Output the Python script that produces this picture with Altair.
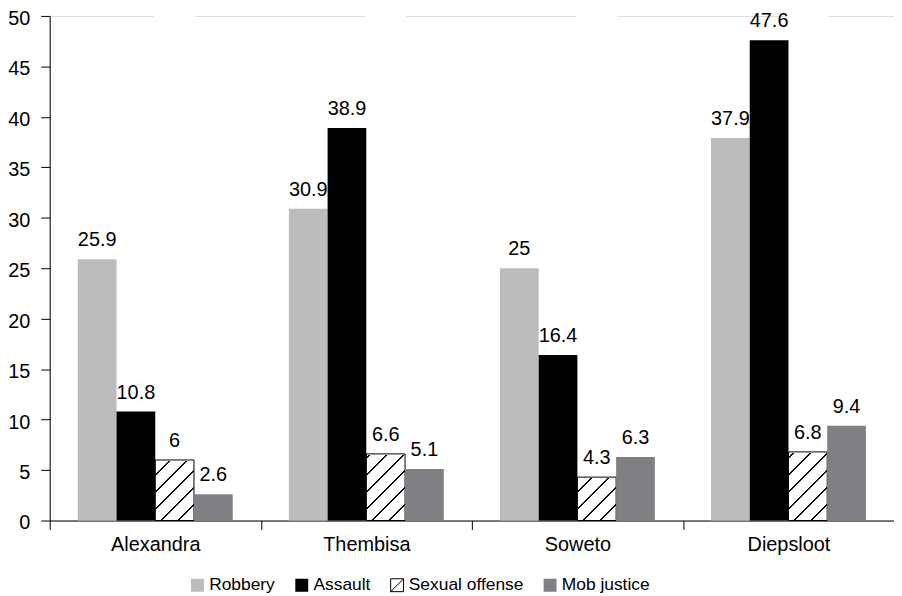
import altair as alt
import pandas as pd

# ---- data ----
locations = ["Alexandra", "Thembisa", "Soweto", "Diepsloot"]
series = ["Robbery", "Assault", "Sexual offense", "Mob justice"]
robbery = [25.9, 30.9, 25, 37.9]
assault = [10.8, 38.9, 16.4, 47.6]
sexual_offense = [6, 6.6, 4.3, 6.8]
mob_justice = [2.6, 5.1, 6.3, 9.4]
y_ticks = [0, 5, 10, 15, 20, 25, 30, 35, 40, 45, 50]

# ---- styles ----
fill_colors = ["#bcbcbe", "#000000", "transparent", "#808084"]
stroke_colors = ["transparent", "transparent", "#000000", "transparent"]
FONT = "Liberation Sans"
HATCHED = "Sexual offense"

rows = []
for s, vals in zip(series, [robbery, assault, sexual_offense, mob_justice]):
    for loc, v in zip(locations, vals):
        rows.append({"location": loc, "series": s, "value": v})
df = pd.DataFrame(rows)

# diagonal hatch as a hard-stop linear gradient on a full-height rect
n_lines = 32
line_w = 0.0030
stops = []
for k in range(n_lines):
    a = k / n_lines
    stops += [
        {"offset": a, "color": "black"},
        {"offset": a + line_w, "color": "black"},
        {"offset": a + line_w, "color": "white"},
        {"offset": (k + 1) / n_lines, "color": "white"},
    ]
hatch = {"gradient": "linear", "x1": 0, "y1": 0, "x2": 0.0822, "y2": 1.0705,
         "stops": stops}

x_enc = alt.X(
    "location:N",
    scale=alt.Scale(domain=locations, paddingInner=0, paddingOuter=0),
    axis=alt.Axis(title=None, labelAngle=0, labelFontSize=20, labelFont=FONT,
                  labelColor="black", tickBand="extent", tickSize=9,
                  labelPadding=5, domainColor="black", tickColor="black",
                  domainWidth=1, tickWidth=1),
)
xo_enc = alt.XOffset("series:N",
                     scale=alt.Scale(domain=series, paddingInner=0, paddingOuter=0.725))
y_scale = alt.Scale(domain=[0, 50], nice=False)
y_enc = alt.Y(
    "value:Q", scale=y_scale,
    axis=alt.Axis(title=None, values=y_ticks, grid=False, labelFontSize=20,
                  labelFont=FONT, labelColor="black", tickSize=9, labelPadding=11,
                  labelOffset=2.5,
                  domainColor="black", tickColor="black", domainWidth=1, tickWidth=1),
)

base = alt.Chart(df)
hatched = base.transform_filter(alt.datum.series == HATCHED)

hatch_layer = hatched.mark_bar(fill=hatch).encode(
    x=x_enc, xOffset=xo_enc,
    y=alt.Y(datum=50, type="quantitative", scale=y_scale, title=None),
    y2=alt.Y2(datum=0),
)
cover_layer = hatched.mark_bar(fill="white", stroke="white", strokeWidth=2).encode(
    x=x_enc, xOffset=xo_enc, y=y_enc, y2=alt.Y2(datum=51),
)

legend = alt.Legend(
    title=None, orient="none", legendX=140, legendY=564, direction="horizontal",
    columns=4, symbolType="M-1,-1H1V1H-1Z M-1,1L1,-1", symbolSize=169,
    symbolStrokeWidth=1, labelFontSize=17.5, labelFont=FONT, labelColor="black",
    columnPadding=18, labelOffset=3, padding=0, symbolOffset=0,
)
bars = base.mark_bar(strokeWidth=1).encode(
    x=x_enc, xOffset=xo_enc, y=y_enc,
    fill=alt.Fill("series:N", scale=alt.Scale(domain=series, range=fill_colors),
                  legend=legend),
    stroke=alt.Stroke("series:N", scale=alt.Scale(domain=series, range=stroke_colors),
                      legend=legend),
)
labels = base.mark_text(dy=-13, fontSize=20, font=FONT, baseline="alphabetic",
                        color="black").encode(
    x=x_enc, xOffset=xo_enc, y=y_enc, text=alt.Text("value:Q"),
)

chart = alt.layer(hatch_layer, cover_layer, bars, labels).properties(
    width=850, height=508,
    autosize=alt.AutoSizeParams(type="none"),
    padding={"left": 42, "top": 6, "right": 0, "bottom": 74},
).configure_view(stroke=None).configure(font=FONT)

chart.save("out.html", embed_options={"renderer": "svg", "actions": False})
